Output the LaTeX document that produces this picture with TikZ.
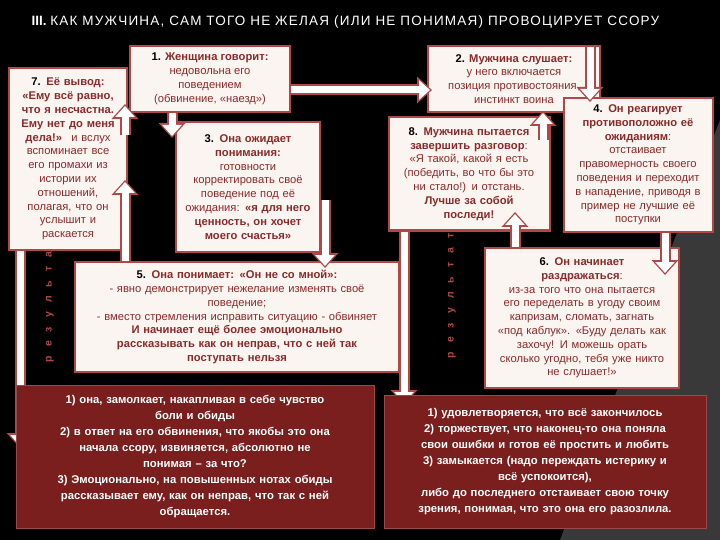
\documentclass[tikz,border=0pt]{standalone}
\usepackage{fontspec}
\setmainfont{Liberation Sans}
\usetikzlibrary{arrows.meta}
\definecolor{dr}{HTML}{8A2A2A}
\definecolor{bx}{HTML}{FBF5F2}
\definecolor{bd}{HTML}{B04848}
\definecolor{bot}{HTML}{7A1E1E}
\tikzset{
 box/.style={draw=bd,line width=2pt,fill=bx,text=dr,align=center,inner sep=2pt,font=\fontsize{11.2}{13.8}\selectfont},
 botbox/.style={draw=bot!80!white,line width=1pt,fill=bot,text=white,align=center,font=\bfseries\fontsize{11.3}{16}\selectfont,inner sep=2pt},
 arrO/.style={draw=bd,line width=11pt,-{Triangle[width=26pt,length=15pt]}},
 arrI/.style={draw=white,line width=7pt,shorten >=2pt,shorten <=0pt,-{Triangle[width=19pt,length=11pt]}},
 res/.style={text=bd,font=\bfseries\fontsize{10.5}{10}\selectfont,rotate=90}
}
\newcommand{\blk}[2]{\draw[arrO] #1 -- #2; \draw[arrI] #1 -- #2;}
\newcommand{\rz}{р\hspace{9pt}е\hspace{9pt}з\hspace{9pt}у\hspace{9pt}л\hspace{9pt}ь\hspace{9pt}т\hspace{9pt}а\hspace{9pt}т}
\begin{document}
\begin{tikzpicture}[x=1pt,y=-1pt]
\fill[black] (0,0) rectangle (720,540);
\fill[gray!45!black] (720,120) -- (720,540) -- (560,540) -- cycle;
\useasboundingbox (0,0) rectangle (720,540);
\node[text=white,anchor=west,font=\fontsize{13.5}{15}\selectfont] (title) at (28,22) {\textbf{III.} \addfontfeature{LetterSpace=9}КАК МУЖЧИНА, САМ ТОГО НЕ ЖЕЛАЯ (ИЛИ НЕ ПОНИМАЯ) ПРОВОЦИРУЕТ ССОРУ};
% long result arrows
\coordinate (l1) at (20,250); \coordinate (l2) at (20,448);
\coordinate (r1) at (404,230); \coordinate (r2) at (404,405);
\blk{(l1)}{(l2)}
\blk{(r1)}{(r2)}
\node[res] (resL) at (50,300) {\rz};
\node[res] (resR) at (452,296) {\rz};
% boxes
\node[box,minimum width=160pt,minimum height=66pt] (b1) at (210,79) {\textcolor{black}{\textbf{1.}} \textbf{Женщина говорит:}\\недовольна его\\поведением\\(обвинение, «наезд»)};
\node[box,minimum width=172pt,minimum height=66pt] (b2) at (514,79) {\textcolor{black}{\textbf{2.}} \textbf{Мужчина слушает:}\\у него включается\\позиция противостояния,\\инстинкт воина};
\node[box,text width=114pt,minimum height=182pt] (b7) at (68,159) {\textcolor{black}{\textbf{7.}} \textbf{Её вывод:}\\\textbf{«Ему всё равно,}\\\textbf{что я несчастна.}\\\textbf{Ему нет до меня}\\\textbf{дела!»} \ и вслух\\вспоминает все\\его промахи из\\истории их\\отношений,\\полагая, что он\\услышит и\\раскается};
\node[box,text width=140pt,minimum height=130pt] (b3) at (248,187) {\textcolor{black}{\textbf{3.}} \textbf{Она ожидает}\\\textbf{понимания:}\\готовности\\корректировать своё\\поведение под её\\ожидания: \textbf{«я для него}\\\textbf{ценность, он хочет}\\\textbf{моего счастья»}};
\node[box,text width=157pt,minimum height=113pt] (b8) at (469,174) {\textcolor{black}{\textbf{8.}} \textbf{Мужчина пытается}\\\textbf{завершить разговор}:\\«Я такой, какой я есть\\(победить, во что бы это\\ни стало!) и отстань.\\\textbf{Лучше за собой}\\\textbf{последи!}};
\node[box,text width=145pt,minimum height=134pt] (b4) at (638,165) {\textcolor{black}{\textbf{4.}} \textbf{Он реагирует}\\\textbf{противоположно её}\\\textbf{ожиданиям}:\\отстаивает\\правомерность своего\\поведения и переходит\\в нападение, приводя в\\пример не лучшие её\\поступки};
\node[box,text width=320pt,minimum height=110pt] (b5) at (237,317) {\textcolor{black}{\textbf{5.}} \textbf{Она понимает: «Он не со мной»:}\\- явно демонстрирует нежелание изменять своё\\поведение;\\- вместо стремления исправить ситуацию - обвиняет\\\textbf{И начинает ещё более эмоционально}\\\textbf{рассказывать как он неправ, что с ней так}\\\textbf{поступать нельзя}};
\node[box,text width=190pt,minimum height=140pt] (b6) at (582,318) {\textcolor{black}{\textbf{6.}} \textbf{Он начинает}\\\textbf{раздражаться}:\\из-за того что она пытается\\его переделать в угоду своим\\капризам, сломать, загнать\\«под каблук». «Буду делать как\\захочу! И можешь орать\\сколько угодно, тебя уже никто\\не слушает!»};
% arrows on top
\coordinate (a1) at (291,90); \coordinate (a2) at (432,90);
\blk{(a1)}{(a2)}
\blk{(590,47)}{(590,102)}
\blk{(172,113)}{(172,138)}
\blk{(325,200)}{(325,268)}
\blk{(665,233)}{(665,275)}
\blk{(515,247)}{(515,212)}
\blk{(543,140)}{(543,111)}
\blk{(125,261)}{(125,180)}
\blk{(125,135)}{(125,104)}
\node[botbox,text width=354pt,minimum height=143pt] (bl) at (195,457) {1) она, замолкает, накапливая в себе чувство\\боли и обиды\\2) в ответ на его обвинения, что якобы это она\\начала ссору, извиняется, абсолютно не\\понимая – за что?\\3) Эмоционально, на повышенных нотах обиды\\рассказывает ему, как он неправ, что так с ней\\обращается.};
\node[botbox,text width=318pt,minimum height=133pt] (br) at (545,462) {1) удовлетворяется, что всё закончилось\\2) торжествует, что наконец-то она поняла\\свои ошибки и готов её простить и любить\\3) замыкается (надо переждать истерику и\\всё успокоится),\\либо до последнего отстаивает свою точку\\зрения, понимая, что это она его разозлила.};
\end{tikzpicture}
\end{document}
